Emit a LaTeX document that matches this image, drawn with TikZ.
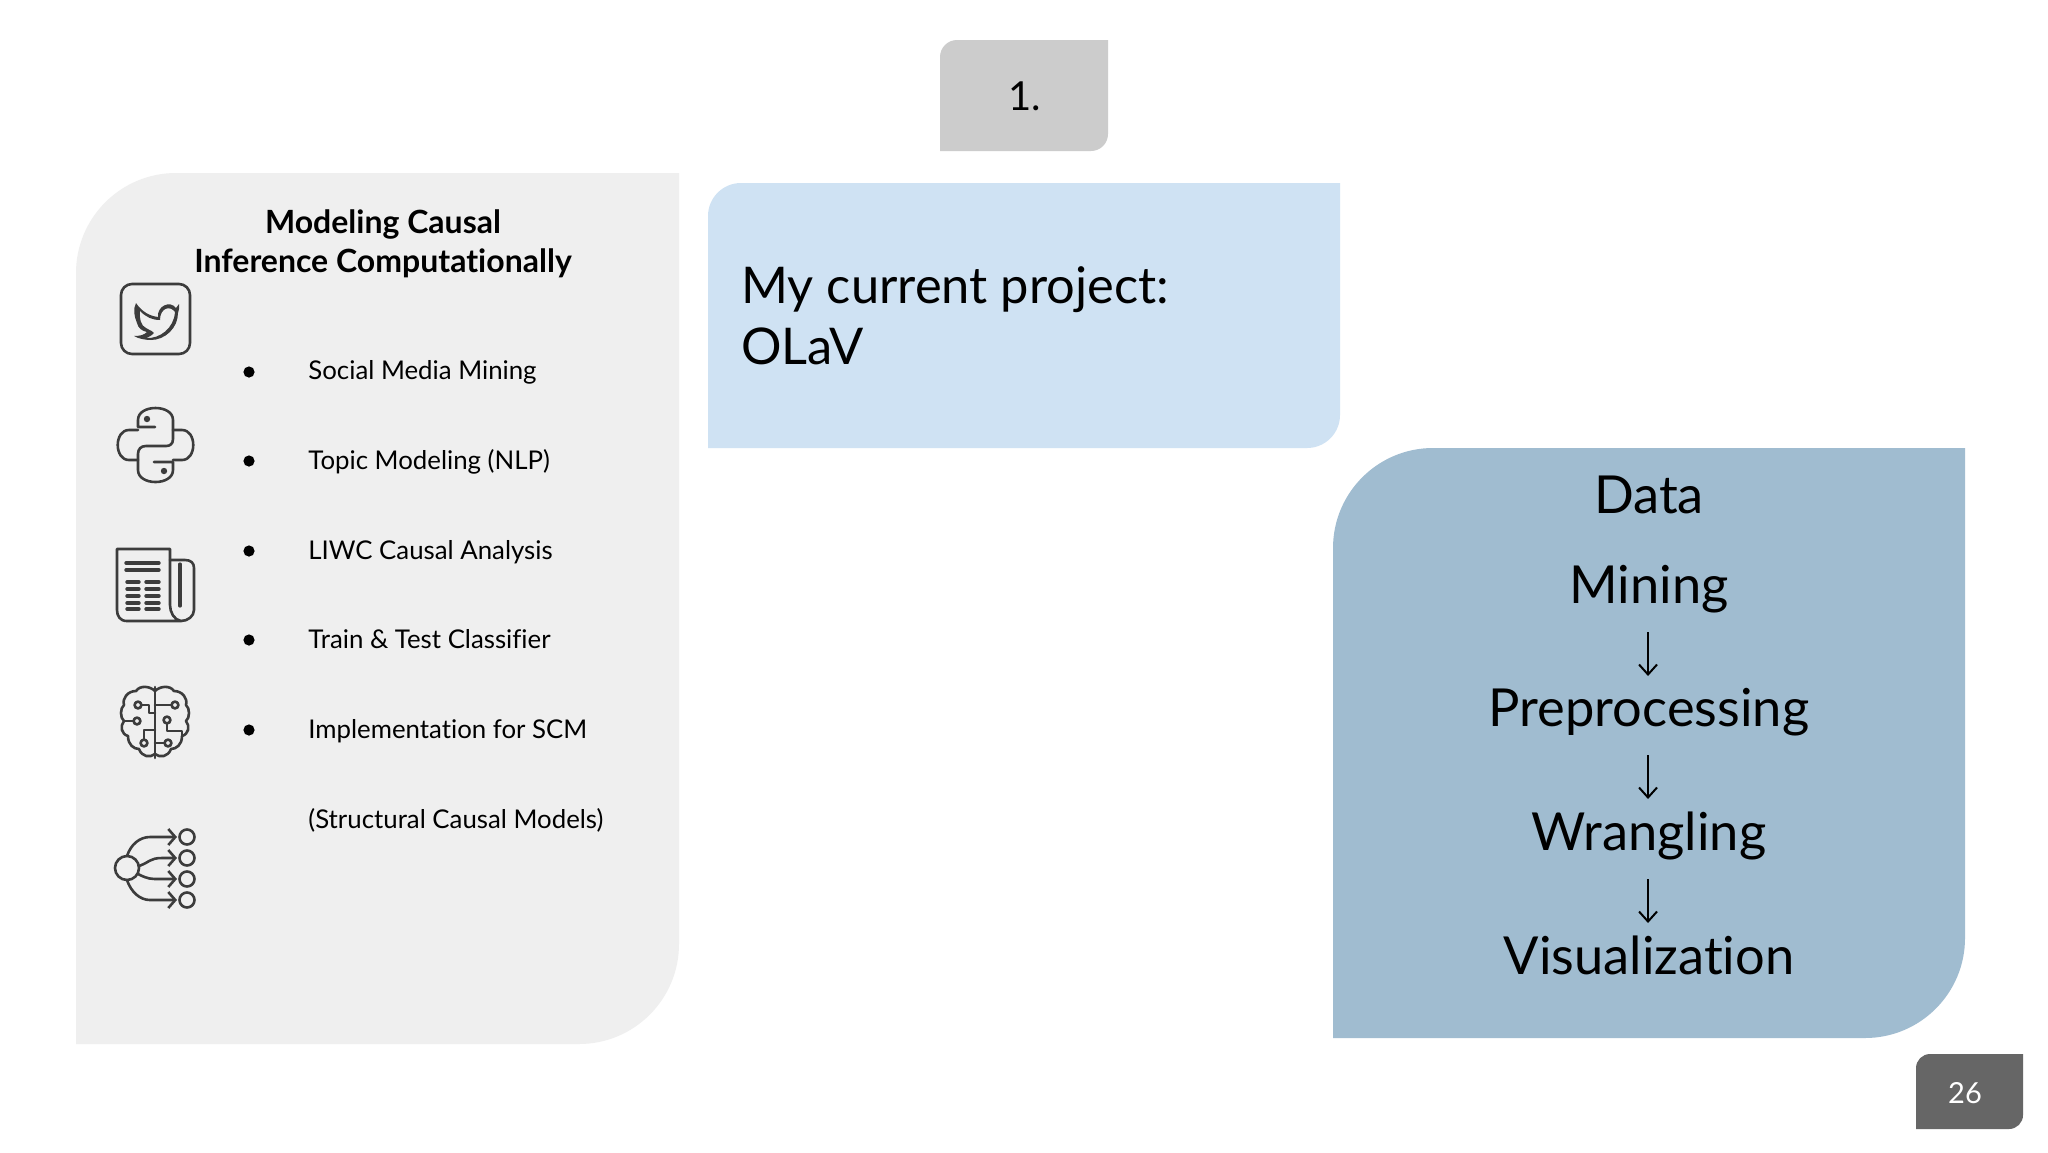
\documentclass[tikz,border=0pt]{standalone}
\usepackage{fontspec}
\setmainfont{Lato}[Ligatures=NoCommon]
\usetikzlibrary{arrows.meta,calc}
\definecolor{panelgray}{HTML}{EFEFEF}
\definecolor{tabgray}{HTML}{CCCCCC}
\definecolor{lightblue}{HTML}{CFE2F3}
\definecolor{steelblue}{HTML}{A0BCD0}
\definecolor{pagegray}{HTML}{666666}
\definecolor{icon}{HTML}{3C3C3C}
\newcommand{\leafbox}[6]{% x0 y0 x1 y1 r colour
  \fill[#6] (#1,#4) -- (#1,#2+#5) arc[start angle=180,end angle=270,radius=#5] -- (#3,#2)
    -- (#3,#4-#5) arc[start angle=0,end angle=90,radius=#5] -- cycle;}
\tikzset{
  x=0.5pt,y=-0.5pt,
  txt/.style={inner sep=0pt,text=black},
  item/.style={txt,anchor=base west,font=\fontsize{12.9}{15}\selectfont},
  bull/.style={circle,fill=black,inner sep=0pt,minimum size=5.6pt},
  big/.style={txt,anchor=base,font=\fontsize{26.2}{32}\selectfont},
  flow/.style={draw=black,line width=1pt,-{Straight Barb[length=5pt,width=9pt,line width=1pt]}},
  ico/.style={draw=icon,line width=1.3pt,line cap=round,line join=round},
  dot/.style={fill=icon,draw=none},
  tip/.style={-{Straight Barb[length=3.5pt,width=8pt]}},
}
\begin{document}
\begin{tikzpicture}
\useasboundingbox (0,0) rectangle (2048,1152);
\fill[white] (0,0) rectangle (2048,1152);
\leafbox{940}{40}{1108}{151}{17}{tabgray}
\leafbox{76}{173}{679}{1044}{100}{panelgray}
\leafbox{708}{183}{1340}{448}{33}{lightblue}
\leafbox{1333}{448}{1965}{1038}{100}{steelblue}
\leafbox{1916}{1054}{2023}{1129}{14}{pagegray}

\node[txt,anchor=base,font=\fontsize{20}{24}\selectfont] (tab) at (1025,110) {1.};
\node[txt,anchor=base,font=\fontsize{16}{18}\selectfont\bfseries] (t1) at (383,233) {Modeling Causal};
\node[txt,anchor=base,font=\fontsize{16}{18}\selectfont\bfseries] (t2) at (383,272) {Inference Computationally};

\node[item] (i1) at (308,379) {Social Media Mining};
\node[item] (i2) at (308,469) {Topic Modeling (NLP)};
\node[item] (i3) at (308,559) {LIWC Causal Analysis};
\node[item] (i4) at (308,648) {Train \& Test Classifier};
\node[item] (i5) at (308,738) {Implementation for SCM};
\node[item] (i6) at (308,828) {(Structural Causal Models)};
\node[bull] (b1) at (249,372) {};
\node[bull] (b2) at (249,461) {};
\node[bull] (b3) at (249,551) {};
\node[bull] (b4) at (249,640) {};
\node[bull] (b5) at (249,730) {};

\node[txt,anchor=base west,font=\fontsize{25.3}{30}\selectfont] (p1) at (741,303) {My current project:};
\node[txt,anchor=base west,font=\fontsize{25.3}{30}\selectfont] (p2) at (741,364) {OLaV};

\node[big] (d0) at (1649,513) {Data};
\node[big] (d1) at (1649,603) {Mining};
\node[big] (d2) at (1649,726) {Preprocessing};
\node[big] (d3) at (1649,850) {Wrangling};
\node[big] (d4) at (1649,974) {Visualization};
\coordinate (a1s) at (1648,632); \coordinate (a1e) at (1648,676);
\coordinate (a2s) at (1648,755); \coordinate (a2e) at (1648,799);
\coordinate (a3s) at (1648,879); \coordinate (a3e) at (1648,923);
\draw[flow] (a1s) -- (a1e);
\draw[flow] (a2s) -- (a2e);
\draw[flow] (a3s) -- (a3e);

\node[txt,anchor=base,text=white,font=\fontsize{14.5}{17}\selectfont] (pg) at (1965,1103) {26};

% twitter icon
\draw[ico,rounded corners=5.5pt] (121,284) rectangle (190,354);
\fill[icon,even odd rule] (136,303) .. controls (142,312) and (150,316) .. (158,317)
  .. controls (157,306) and (170,300) .. (176,308) -- (179,304) -- (179,309) -- (178,313)
  .. controls (178,328) and (165,340) .. (151,340) .. controls (146,340) and (139,339) .. (134,336)
  .. controls (140,336) and (144,335) .. (147,332)
  .. controls (142,331) and (138,328) .. (137,323) .. controls (134,316) and (133,309) .. (136,303) -- cycle
  (140,311) .. controls (139,318) and (141,326) .. (146,328) .. controls (151,331) and (153,331) .. (154,333)
  .. controls (151,336) and (149,337) .. (146,338) .. controls (160,339) and (174,328) .. (175,312)
  .. controls (170,305) and (160,308) .. (160,320)
  .. controls (152,320) and (146,317) .. (140,311) -- cycle;
% python icon
\draw[ico] (155,427) -- (138,427) -- (138,420) .. controls (138,404) and (173,404) .. (173,420) -- (173,439)
  .. controls (173,444) and (170,446) .. (166,446) -- (146,446) .. controls (141,446) and (138,449) .. (138,454)
  -- (138,470) .. controls (138,486) and (173,486) .. (173,470) -- (173,462) -- (154,462);
\draw[ico] (138,430) -- (129,430) .. controls (114,430) and (114,460) .. (129,460) -- (138,460);
\draw[ico] (173,430) -- (182,430) .. controls (197,430) and (197,460) .. (182,460) -- (173,460);
\fill[dot] (147,419) circle (3.2); \fill[dot] (164,471) circle (3.2);
% newspaper icon
\draw[ico] (117,549) -- (170,549) -- (170,605) .. controls (170,612) and (174,620) .. (181,621)
  -- (127,621) .. controls (120,621) and (117,616) .. (117,610) -- cycle;
\draw[ico] (170,560) -- (185,560) .. controls (191,560) and (194,563) .. (194,568) -- (194,610)
  .. controls (194,616) and (188,621) .. (181,621);
\draw[ico,line width=1.6pt] (180,564) -- (180,606);
\foreach \yy in {563,570} \draw[ico,line width=1.7pt] (126,\yy) -- (159,\yy);
\foreach \yy in {582,589,596,603,609} {
  \draw[ico,line width=1.7pt] (127,\yy) -- (139,\yy);
  \draw[ico,line width=1.7pt] (146,\yy) -- (159,\yy);}
% brain icon
\draw[ico] (155,687) -- (155,758);
\draw[ico] (155,691) .. controls (150,686) and (140,685) .. (136,691)
  .. controls (128,691) and (122,698) .. (124,705) .. controls (120,708) and (120,718) .. (124,721)
  .. controls (120,726) and (121,734) .. (128,736) .. controls (128,745) and (134,749) .. (139,749)
  .. controls (142,757) and (150,758) .. (155,754);
\draw[ico] (155,691) .. controls (160,686) and (170,685) .. (174,691)
  .. controls (182,691) and (188,698) .. (186,705) .. controls (190,708) and (190,718) .. (186,721)
  .. controls (190,726) and (189,734) .. (182,736) .. controls (182,745) and (176,749) .. (171,749)
  .. controls (168,757) and (160,758) .. (155,754);
\draw[ico,fill=panelgray] (138,705) circle (3.4);
\draw[ico] (142,705) -- (149,705) -- (149,713) -- (155,713);
\draw[ico,fill=panelgray] (137,721) circle (3.4);
\draw[ico] (133,721) -- (125,721);
\draw[ico,fill=panelgray] (144,743) circle (3.4);
\draw[ico] (144,739) -- (144,730) -- (155,730);
\draw[ico,fill=panelgray] (175,705) circle (3.4);
\draw[ico] (171,705) -- (155,705);
\draw[ico,fill=panelgray] (167,720) circle (3.4);
\draw[ico] (167,724) -- (167,731) -- (182,731) -- (182,736);
\draw[ico,fill=panelgray] (168,743) circle (3.4);
\draw[ico] (164,743) -- (155,743);
% causal tree icon
\draw[ico] (127,868) circle (12);
\foreach \yy in {837,858,879,900} \draw[ico] (187,\yy) circle (7.5);
\draw[ico,tip] (127,856) .. controls (131,844) and (140,837) .. (150,837) -- (177,837);
\draw[ico,tip] (139,866) .. controls (150,862) and (150,858) .. (162,858) -- (177,858);
\draw[ico,tip] (138,874) .. controls (148,879) and (150,879) .. (160,879) -- (177,879);
\draw[ico,tip] (127,880) .. controls (131,892) and (140,900) .. (150,900) -- (177,900);
\end{tikzpicture}
\end{document}
